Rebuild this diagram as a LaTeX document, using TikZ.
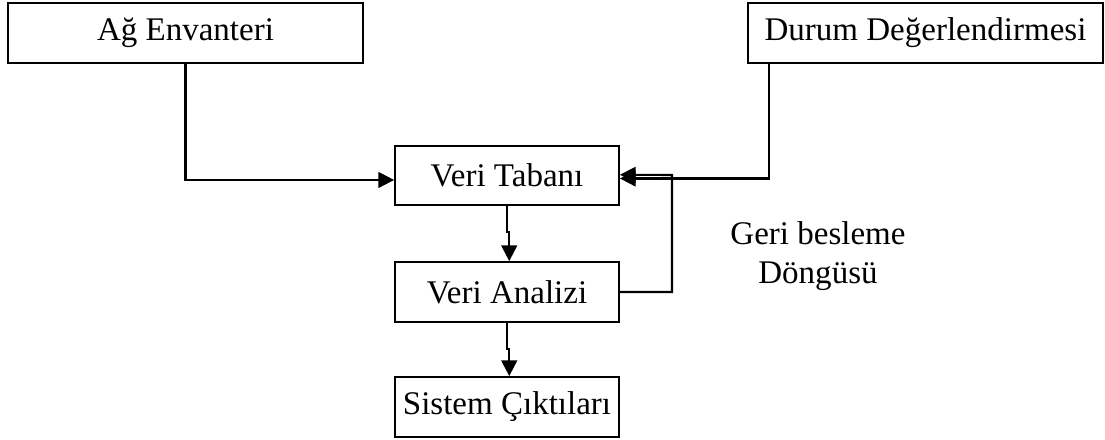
\documentclass[tikz,border=0pt]{standalone}
\usepackage{fontspec}
\setmainfont{Liberation Serif}
\usetikzlibrary{arrows.meta,calc}
\tikzset{box/.style={draw,line width=0.8pt,minimum height=0.8cm,inner sep=0pt,
                     font=\fontsize{12.6pt}{14.5pt}\selectfont},
         wide/.style={box,minimum width=4.76cm},
         narrow/.style={box,minimum width=3.0cm},
         link/.style={draw,line width=0.8pt,-{Triangle[length=0.21cm,width=0.21cm]}},
         x=0.01342cm,y=-0.01342cm}

\begin{document}
\begin{tikzpicture}
\useasboundingbox (0,0) rectangle (1105,439);
\node[wide] (envanter) at (185.5,33) {Ağ Envanteri};
\node[wide] (durum) at (925.5,33) {Durum Değerlendirmesi};
\node[narrow] (tabani) at (507,175.5) {Veri Tabanı};
\node[narrow] (analiz) at (507,292) {Veri Analizi};
\node[narrow] (cikti) at (507,407) {Sistem Çıktıları};
\node[align=center,font=\fontsize{12.6pt}{14.8pt}\selectfont] (dongu) at (818,256)
  {Geri besleme\\Döngüsü};
\coordinate (kose) at (672,175);
\draw[link] (envanter.south) |- ([yshift=-0.06cm]tabani.west);
\draw[link] ($(durum.south west)+(22,0)$) |- ([yshift=-0.04cm]tabani.east);
\draw[link] (analiz.east) -| (kose) -- ([yshift=0.01cm]tabani.east);
\draw[link] (tabani.south) -- ++(0,26) -| ([xshift=0.03cm]analiz.north);
\draw[link] (analiz.south) -- ++(0,26) -| ([xshift=0.03cm]cikti.north);
\end{tikzpicture}
\end{document}
